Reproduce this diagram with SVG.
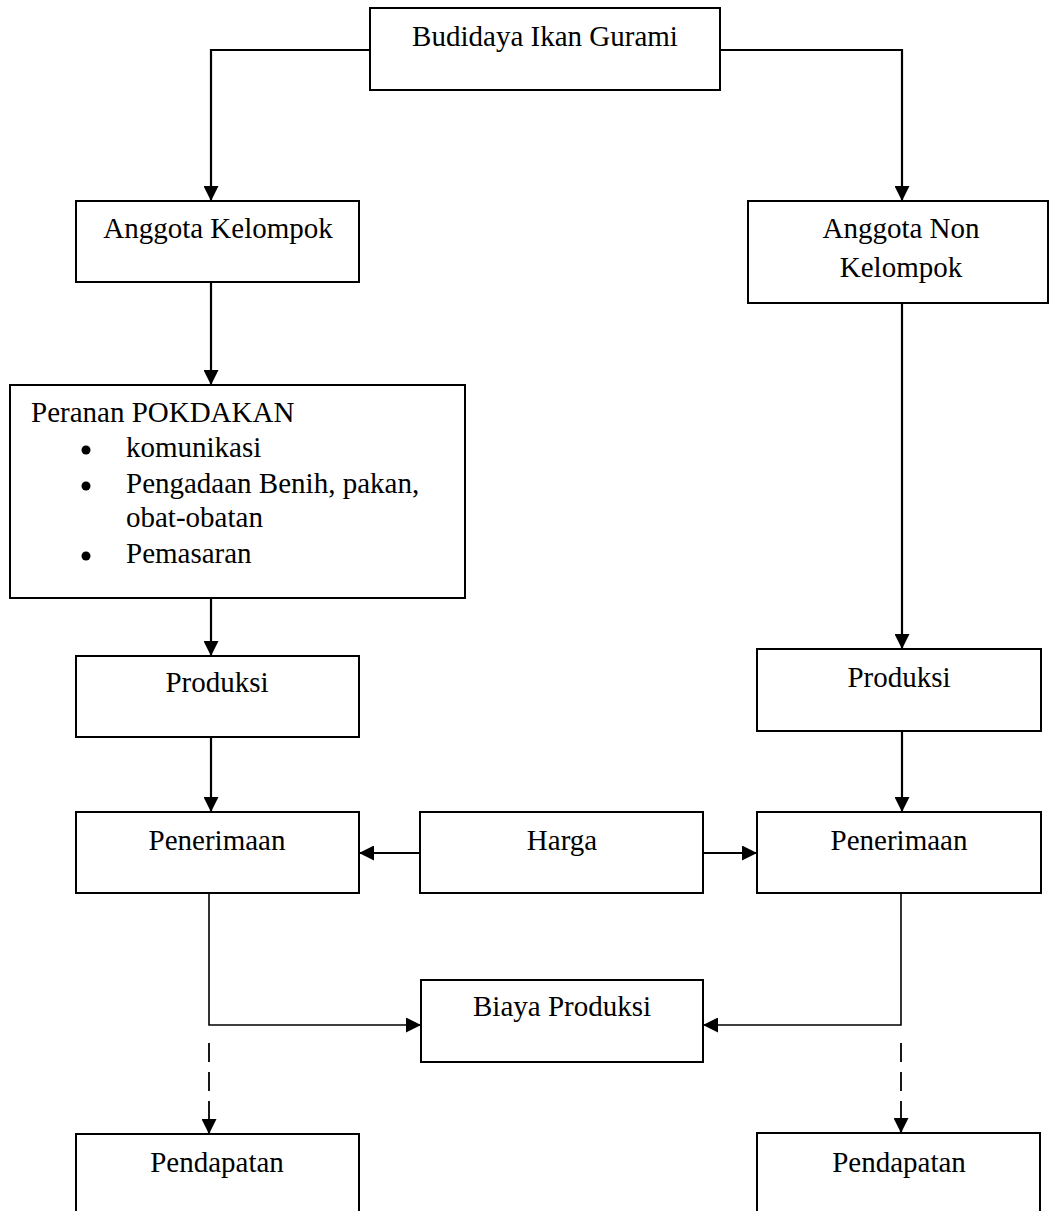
<svg xmlns="http://www.w3.org/2000/svg" width="1049" height="1211" viewBox="0 0 1049 1211">
<defs>
<marker id="ah" viewBox="0 0 14 14" refX="14" refY="7" markerWidth="15" markerHeight="15" markerUnits="userSpaceOnUse" orient="auto">
<path d="M0,0 L14,7 L0,14 Z" fill="#000"/>
</marker>
</defs>
<style>
.box{fill:#fff;stroke:#000;stroke-width:2}
.t{font-family:"Liberation Serif","Times New Roman",serif;font-size:29px;fill:#000}
.c{text-anchor:middle}
.ln{fill:none;stroke:#000;stroke-width:2.2}
.thin{fill:none;stroke:#000;stroke-width:1.6}
.dash{fill:none;stroke:#000;stroke-width:1.8;stroke-dasharray:19 10}
</style>
<rect width="1049" height="1211" fill="#fff"/>
<g id="connectors">
<path class="ln" d="M370,50 H211 V201" marker-end="url(#ah)"/>
<path class="ln" d="M720,50 H902 V201" marker-end="url(#ah)"/>
<path class="ln" d="M211,282 V385" marker-end="url(#ah)"/>
<path class="ln" d="M211,598 V656" marker-end="url(#ah)"/>
<path class="ln" d="M211,737 V812" marker-end="url(#ah)"/>
<path class="ln" d="M902,303 V649" marker-end="url(#ah)"/>
<path class="ln" d="M902,731 V812" marker-end="url(#ah)"/>
<path class="ln" d="M420,853 H359" marker-end="url(#ah)"/>
<path class="ln" d="M703,853 H757" marker-end="url(#ah)"/>
<path class="thin" d="M209,893 V1025 H421" marker-end="url(#ah)"/>
<path class="thin" d="M901,893 V1025 H703" marker-end="url(#ah)"/>
<path class="dash" d="M209,1043 V1121"/>
<path class="ln" d="M209,1121 V1134" marker-end="url(#ah)"/>
<path class="dash" d="M901,1043 V1121"/>
<path class="ln" d="M901,1121 V1133" marker-end="url(#ah)"/>
</g>
<g id="budidaya">
<rect class="box" x="370" y="8" width="350" height="82"/>
<text class="t c" x="545" y="46">Budidaya Ikan Gurami</text>
</g>
<g id="anggota-kelompok">
<rect class="box" x="76" y="201" width="283" height="81"/>
<text class="t c" x="218" y="238">Anggota Kelompok</text>
</g>
<g id="anggota-non-kelompok">
<rect class="box" x="748" y="201" width="300" height="102"/>
<text class="t c" x="901" y="238">Anggota Non</text>
<text class="t c" x="901" y="277">Kelompok</text>
</g>
<g id="peranan">
<rect class="box" x="10" y="385" width="455" height="213"/>
<text class="t" x="31" y="422">Peranan POKDAKAN</text>
<circle cx="86" cy="450" r="4.5"/>
<text class="t" x="126" y="457">komunikasi</text>
<circle cx="86" cy="486" r="4.5"/>
<text class="t" x="126" y="493">Pengadaan Benih, pakan,</text>
<text class="t" x="126" y="527">obat-obatan</text>
<circle cx="86" cy="556" r="4.5"/>
<text class="t" x="126" y="563">Pemasaran</text>
</g>
<g id="produksi-kiri">
<rect class="box" x="76" y="656" width="283" height="81"/>
<text class="t c" x="217" y="692">Produksi</text>
</g>
<g id="produksi-kanan">
<rect class="box" x="757" y="649" width="284" height="82"/>
<text class="t c" x="899" y="687">Produksi</text>
</g>
<g id="penerimaan-kiri">
<rect class="box" x="76" y="812" width="283" height="81"/>
<text class="t c" x="217" y="850">Penerimaan</text>
</g>
<g id="harga">
<rect class="box" x="420" y="812" width="283" height="81"/>
<text class="t c" x="562" y="850">Harga</text>
</g>
<g id="penerimaan-kanan">
<rect class="box" x="757" y="812" width="284" height="81"/>
<text class="t c" x="899" y="850">Penerimaan</text>
</g>
<g id="biaya-produksi">
<rect class="box" x="421" y="980" width="282" height="82"/>
<text class="t c" x="562" y="1016">Biaya Produksi</text>
</g>
<g id="pendapatan-kiri">
<rect class="box" x="76" y="1134" width="283" height="90"/>
<text class="t c" x="217" y="1172">Pendapatan</text>
</g>
<g id="pendapatan-kanan">
<rect class="box" x="757" y="1133" width="283" height="90"/>
<text class="t c" x="899" y="1172">Pendapatan</text>
</g>
</svg>
